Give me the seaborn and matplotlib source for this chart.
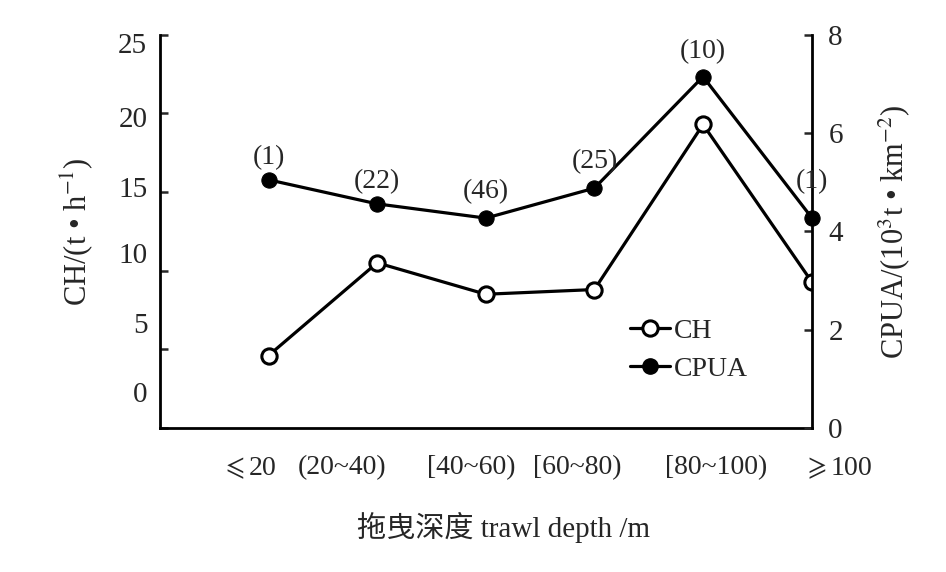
import matplotlib
matplotlib.use("Agg")
import matplotlib.pyplot as plt
import seaborn as sns
import pandas as pd
from matplotlib.lines import Line2D

categories = [r"$\leqslant$20", "(20~40)", "[40~60)", "[60~80)", "[80~100)", r"$\geqslant$100"]
ch_values = [4.6, 10.5, 8.5, 8.8, 19.3, 9.3]
cpua_values = [5.05, 4.56, 4.27, 4.88, 7.15, 4.28]
counts = ["(1)", "(22)", "(46)", "(25)", "(10)", "(1)"]
left_ticks = [0, 5, 10, 15, 20, 25]
right_ticks = [0, 2, 4, 6, 8]

sns.set_style("ticks")
plt.rcParams["font.family"] = ["Liberation Serif", "Noto Sans CJK SC", "DejaVu Sans"]
plt.rcParams["mathtext.fontset"] = "stix"

df = pd.DataFrame({"x": range(len(categories)), "CH": ch_values, "CPUA": cpua_values})

fig = plt.figure(figsize=(9.46, 5.72), dpi=100)
ax = fig.add_axes([0.169, 0.252, 0.689, 0.687])
ax2 = ax.twinx()

lw = 2.3
ms = 11
sns.lineplot(data=df, x="x", y="CH", ax=ax, color="black", lw=lw, marker="o",
             markersize=ms, markerfacecolor="white", markeredgecolor="black",
             markeredgewidth=2.2, legend=False)
sns.lineplot(data=df, x="x", y="CPUA", ax=ax2, color="black", lw=lw, marker="o",
             markersize=ms, markerfacecolor="black", markeredgecolor="black",
             legend=False, clip_on=False)

# left axis: tick marks at values, labels drawn slightly offset like the original
ax.set_yticks(left_ticks, labels=[""] * len(left_ticks))
ylabel_pos = [2.3, 6.7, 11.1, 15.3, 19.8, 24.5]
ax.set_yticks(ylabel_pos, labels=[str(v) for v in left_ticks], minor=True)
ax.tick_params(axis="y", which="major", direction="in", length=6, width=1.8)
ax.tick_params(axis="y", which="minor", length=0, pad=9, labelsize=21)

ax2.set_yticks(right_ticks, labels=[str(v) for v in right_ticks])
ax2.tick_params(axis="y", direction="in", length=6, width=1.8, pad=12, labelsize=21)

# x labels: laid out as in the original (slightly shifted from category centres)
ax.set_xticks(range(len(categories)), labels=[""] * len(categories))
ax.tick_params(axis="x", which="both", length=0)
xlabel_pos = [-0.18, 0.68, 1.87, 2.84, 4.12, 5.24]
for xp, lab in zip(xlabel_pos, categories):
    ax.text(xp, -0.102, lab, transform=ax.get_xaxis_transform(), ha="center",
            va="center", fontsize=20, clip_on=False)

ax.set_xlim(-1, len(categories) - 1)
ax.set_ylim(0, 25)
ax2.set_ylim(0, 8)

for a in (ax, ax2):
    a.spines["top"].set_visible(False)
    for s in ("left", "bottom", "right"):
        a.spines[s].set_linewidth(2)
        a.spines[s].set_color("black")
ax.spines["right"].set_visible(False)
ax2.spines["left"].set_visible(False)
ax2.spines["bottom"].set_visible(False)

ax.set_xlabel("")
ax2.set_xlabel("")
ax.set_ylabel("CH/(t • h$^{-1}$)", fontsize=22, labelpad=17)
ax2.set_ylabel("CPUA/(10$^{3}$t • km$^{-2}$)", fontsize=22, labelpad=24)
fig.text(0.532, 0.077, "拖曳深度 trawl depth /m", fontsize=21, ha="center", va="center")

offsets = [16, 16, 19, 19, 18, 26]
for i, (v, c) in enumerate(zip(cpua_values, counts)):
    ax2.annotate(c, xy=(i, v), xytext=(0, offsets[i]), textcoords="offset points",
                 ha="center", va="center", fontsize=20)

handles = [
    Line2D([], [], color="black", lw=lw, marker="o", markersize=ms,
           markerfacecolor="white", markeredgewidth=2.2),
    Line2D([], [], color="black", lw=lw, marker="o", markersize=ms,
           markerfacecolor="black"),
]
fig.legend(handles, ["CH", "CPUA"], loc="upper left", bbox_to_anchor=(0.651, 0.468),
           frameon=False, fontsize=20, handlelength=1.45, handletextpad=0.15,
           labelspacing=0.45, borderpad=0)

fig.savefig("out.png", dpi=100)
